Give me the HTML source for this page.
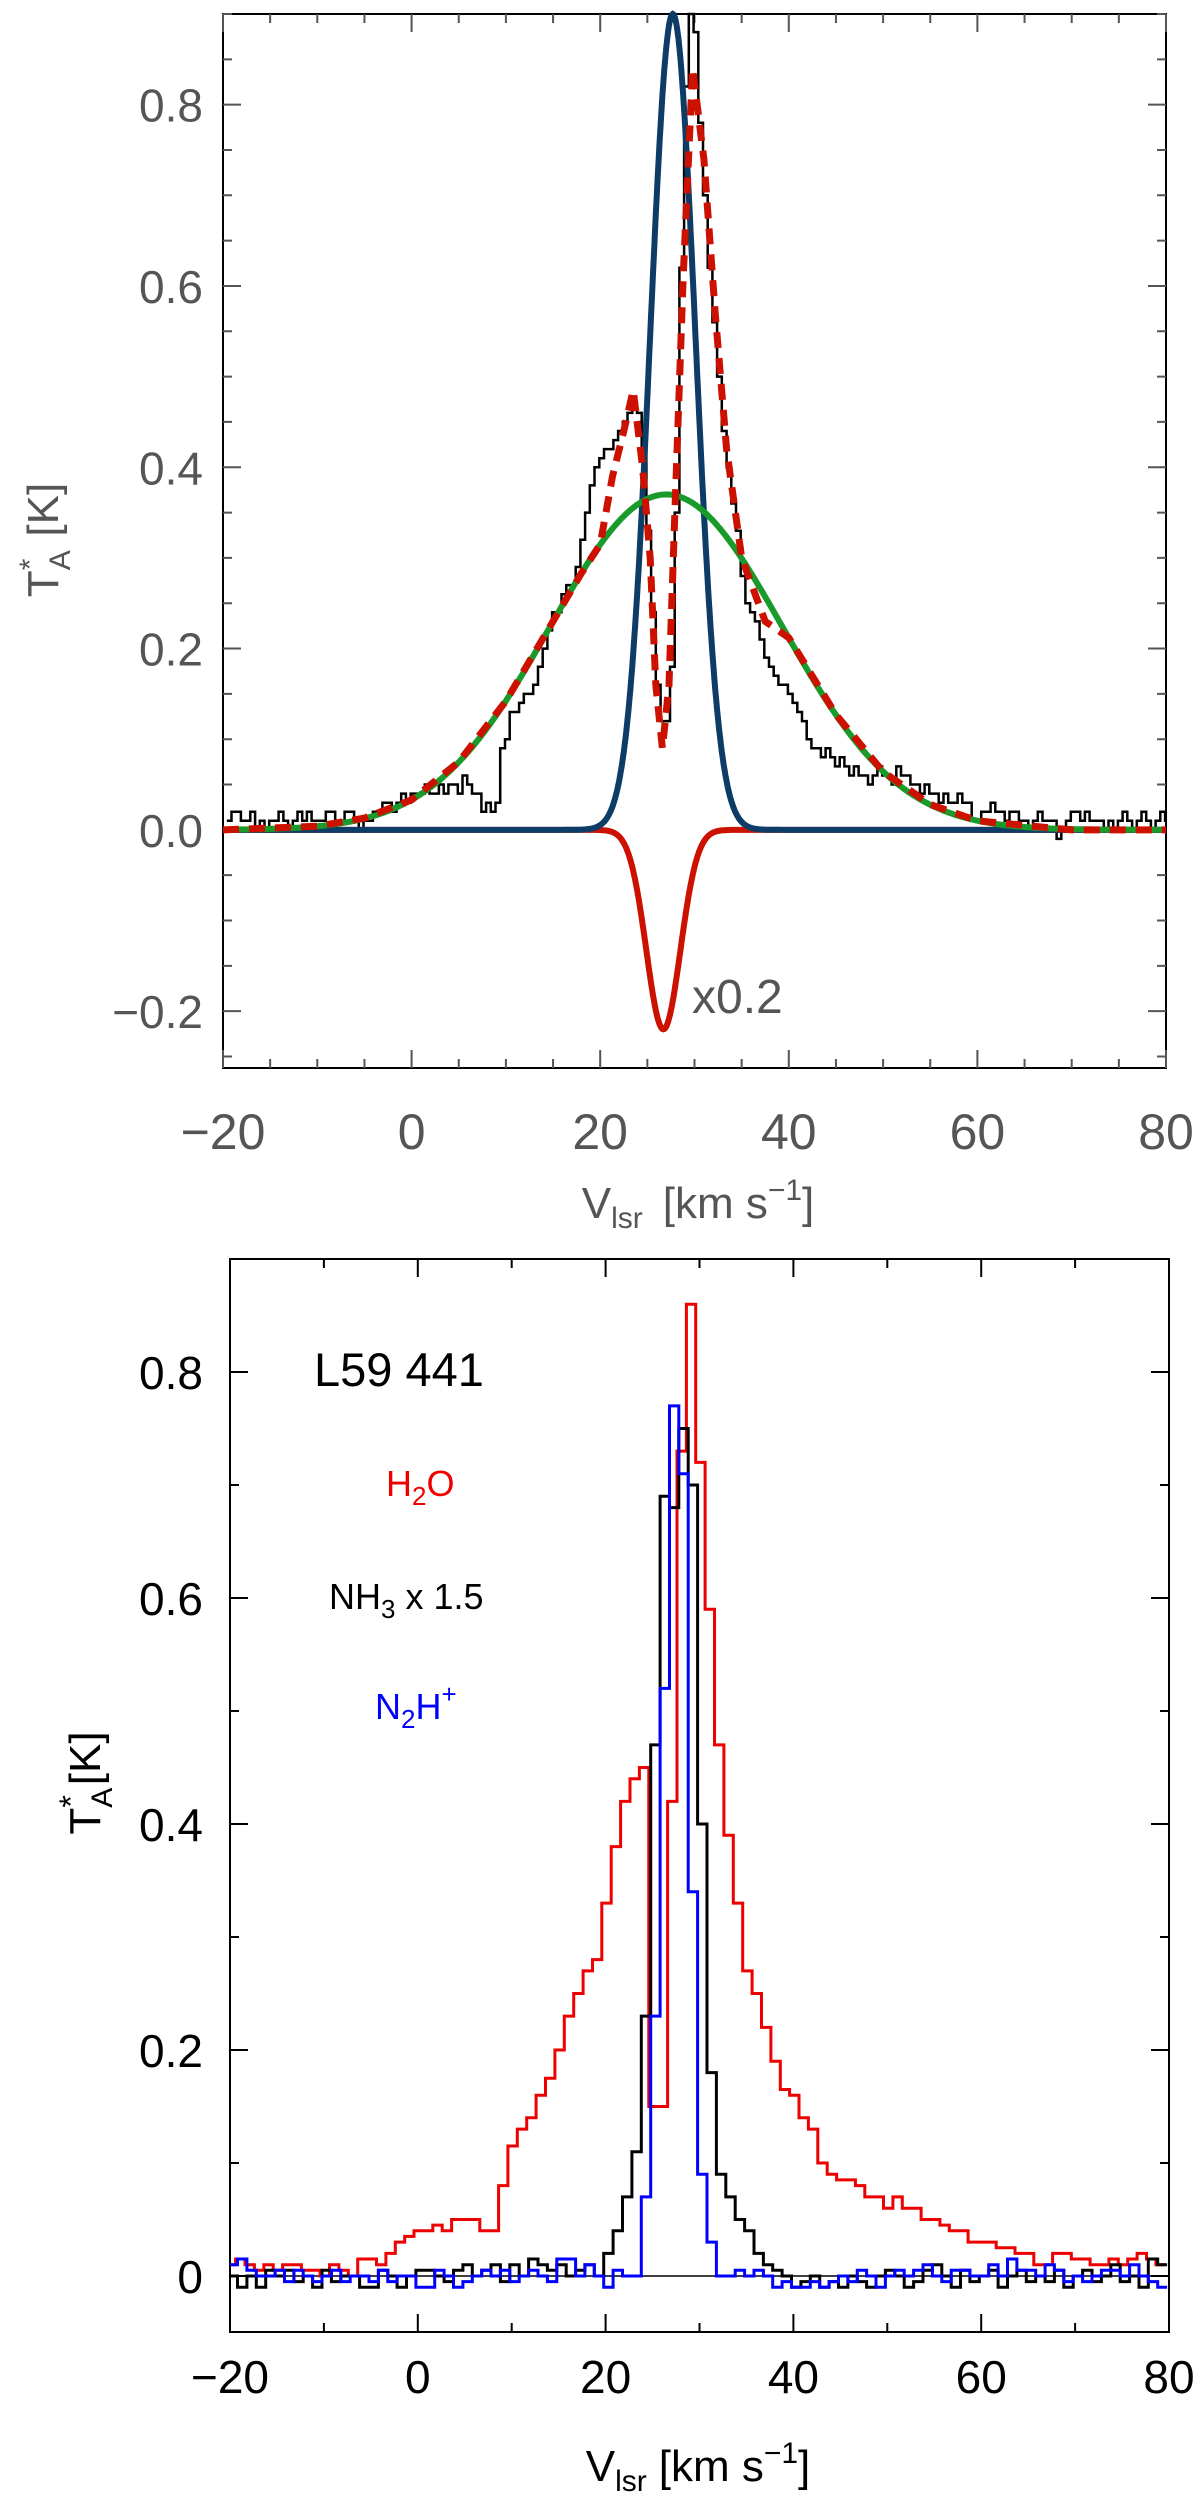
<!DOCTYPE html>
<html><head><meta charset="utf-8"><style>
html,body{margin:0;padding:0;background:#fff;}
svg{display:block;font-family:"Liberation Sans",sans-serif;}
</style></head><body>
<svg id="fig" width="1200" height="2499" viewBox="0 0 1200 2499" xmlns="http://www.w3.org/2000/svg">
<g id="top"></g>
<g id="bot"></g>
<text transform="translate(58,540) rotate(-90)" text-anchor="middle" font-size="44" fill="#555" font-weight="300">T<tspan font-size="30" dy="12">A</tspan><tspan font-size="30" dx="-20" dy="-30">*</tspan><tspan dy="18" dx="22">[K]</tspan></text>
<text x="698" y="1218" text-anchor="middle" font-size="44" fill="#555">V<tspan font-size="30" dy="10">lsr</tspan><tspan dy="-10" dx="20">[km s</tspan><tspan font-size="30" dy="-18">−1</tspan><tspan dy="18">]</tspan></text>
<text x="692" y="1013" font-size="48" fill="#555">x0.2</text>
<text transform="translate(100,1783) rotate(-90)" text-anchor="middle" font-size="44" fill="#000">T<tspan font-size="30" dy="12">A</tspan><tspan font-size="32" dx="-20" dy="-30">*</tspan><tspan dy="18" dx="10">[K]</tspan></text>
<text x="698" y="2481" text-anchor="middle" font-size="44" fill="#000">V<tspan font-size="30" dy="10">lsr</tspan><tspan dy="-10" dx="12">[km s</tspan><tspan font-size="30" dy="-18">−1</tspan><tspan dy="18">]</tspan></text>
<text x="314" y="1386" font-size="47" fill="#000">L59 441</text>
<text x="386" y="1496" font-size="36" fill="#e00">H<tspan font-size="26" dy="9">2</tspan><tspan dy="-9">O</tspan></text>
<text x="329" y="1609" font-size="36" fill="#000">NH<tspan font-size="26" dy="9">3</tspan><tspan dy="-9"> x 1.5</tspan></text>
<text x="375" y="1719" font-size="36" fill="#00f">N<tspan font-size="26" dy="9">2</tspan><tspan dy="-9">H</tspan><tspan font-size="26" dy="-16">+</tspan></text>
</svg>
<script>
// ---- top panel data ----
var topStart = -19.6, topStep = 0.5;
var topSpectrum = [
0.01,0.02,0.02,0.01,0.01,0.02,0.0,0.01,0.0,0.01,0.01,0.02,0.01,0.0,0.01,0.02,0.01,0.02,0.01,0.01,
0.01,0.02,0.02,0.01,0.01,0.02,0.02,0.01,0.0,0.01,
0.01,0.02,0.02,0.03,0.03,0.02,0.03,0.04,0.03,0.04,
0.04,0.04,0.05,0.04,0.04,0.05,0.04,0.05,0.05,0.04,
0.06,0.05,0.04,0.04,0.02,0.03,0.02,0.03,0.09,0.1,
0.13,0.13,0.14,0.15,0.15,0.16,0.18,0.2,0.22,0.24,
0.24,0.26,0.27,0.27,0.29,0.32,0.35,0.38,0.40,0.41,
0.42,0.42,0.43,0.44,0.45,0.46,0.47,0.46,0.42,0.33,
0.24,0.16,0.12,0.12,0.18,0.35,0.62,0.82,0.90,0.88,
0.78,0.70,0.62,0.56,0.50,0.44,0.40,0.36,0.33,0.28,
0.25,0.24,0.23,0.21,0.19,0.18,0.17,0.16,0.16,0.15,
0.14,0.13,0.12,0.10,0.09,0.09,0.08,0.09,0.08,0.07,
0.08,0.07,0.06,0.07,0.06,0.06,0.05,0.06,0.07,0.06,
0.06,0.05,0.07,0.06,0.06,0.05,0.05,0.04,0.05,0.04,
0.04,0.03,0.04,0.03,0.03,0.04,0.03,0.03,0.01,0.01,
0.02,0.02,0.03,0.02,0.02,0.01,0.02,0.02,0.01,0.01,
0.0,0.01,0.02,0.01,0.01,0.01,-0.01,0.0,0.01,0.02,
0.02,0.01,0.02,0.01,0.01,0.01,0.0,0.01,0.0,0.01,
0.02,0.01,0.0,0.01,0.02,0.01,0.0,0.01,0.02,0.01];
// gaussian components: [amplitude, center, sigma]
var narrowComp = [0.9, 27.7, 2.4];
var broadComp = [0.37, 27.0, 12.3];
var absorbComp = [-0.22, 26.7, 1.8];
// total fit
var fitV = [-20,-10,-5,0,5,10,15,18,20,21.3,22.5,23.5,24.5,25.3,25.9,26.6,27.3,27.9,28.8,29.8,31,32.2,33.4,35,37.5,40,45,50,55,60,70,80];
var fitT = [0.0,0.004,0.013,0.033,0.075,0.142,0.23,0.283,0.315,0.39,0.44,0.485,0.40,0.30,0.16,0.09,0.16,0.345,0.61,0.84,0.74,0.57,0.42,0.30,0.23,0.212,0.127,0.064,0.028,0.01,0.0,0.0];
var topYTicks = [-0.2, 0.0, 0.2, 0.4, 0.6, 0.8];
var topYLabels = ["−0.2","0.0","0.2","0.4","0.6","0.8"];
var xTicks = [-20, 0, 20, 40, 60, 80];
var xLabels = ["−20","0","20","40","60","80"];

// ---- bottom panel data ----
var botStart = -20, botStep = 1;
var h2o = [
0.01,0.015,0.01,0.005,0.01,0.005,0.01,0.01,0.005,0.005,
0.0,0.01,0.005,0.0,0.015,0.015,0.01,0.02,0.03,0.035,
0.04,0.04,0.045,0.04,0.05,0.05,0.05,0.04,0.04,0.08,
0.115,0.13,0.14,0.16,0.175,0.2,0.23,0.25,0.27,0.28,
0.33,0.38,0.42,0.44,0.45,0.15,0.15,0.42,0.73,0.86,
0.72,0.59,0.47,0.39,0.33,0.27,0.25,0.22,0.19,0.165,
0.16,0.14,0.13,0.1,0.09,0.085,0.085,0.08,0.07,0.07,
0.06,0.07,0.06,0.06,0.05,0.05,0.045,0.04,0.04,0.03,
0.03,0.03,0.025,0.025,0.02,0.02,0.01,0.01,0.02,0.02,
0.015,0.015,0.01,0.01,0.015,0.01,0.015,0.02,0.015,0.01];
var nh3 = [
0.0,-0.01,0.0,-0.01,0.005,0.0,0.005,-0.005,0.0,-0.01,
0.005,-0.005,0.0,0.0,-0.01,-0.01,0.005,0.0,-0.01,0.0,
0.005,0.005,0.0,-0.005,0.005,0.01,0.0,0.005,0.01,-0.005,
0.01,0.0,0.015,0.01,0.005,0.01,0.0,0.005,0.01,0.0,
0.02,0.04,0.07,0.11,0.23,0.47,0.69,0.68,0.75,0.70,
0.40,0.18,0.09,0.07,0.05,0.04,0.02,0.01,0.005,0.0,
-0.01,-0.005,0.0,-0.01,-0.005,-0.01,0.0,-0.005,-0.01,0.0,
0.005,0.0,-0.01,-0.005,0.005,0.01,0.0,-0.01,0.005,-0.005,
0.0,0.005,-0.01,0.0,0.005,-0.005,0.0,-0.005,0.005,-0.01,
0.0,0.005,-0.005,0.0,0.01,-0.005,0.0,-0.01,0.015,0.01];
var n2h = [
0.01,0.015,0.005,0.0,0.0,0.005,-0.005,0.005,0.0,-0.005,
0.0,0.005,-0.005,0.0,0.0,-0.005,0.005,-0.005,0.0,0.0,
-0.01,-0.01,0.005,0.0,-0.01,-0.005,0.0,0.005,0.0,0.005,
-0.005,0.0,0.005,0.0,-0.005,0.015,0.015,0.0,0.01,0.0,
-0.01,0.005,0.0,0.0,0.07,0.23,0.52,0.77,0.71,0.34,
0.09,0.03,0.0,0.0,0.005,0.0,0.005,0.0,-0.01,-0.005,
-0.01,-0.01,-0.005,-0.01,-0.005,0.0,-0.005,0.005,0.0,-0.01,
0.0,0.005,0.0,0.005,0.01,0.0,-0.005,0.005,0.005,0.0,
0.0,0.01,0.0,0.015,0.005,0.005,0.0,0.01,0.005,-0.005,
0.0,-0.005,0.0,0.005,0.005,0.0,0.01,0.0,-0.005,-0.01];
var botYTicks = [0, 0.2, 0.4, 0.6, 0.8];
var botYLabels = ["0","0.2","0.4","0.6","0.8"];

var NS = "http://www.w3.org/2000/svg";
function mk(parent, tag, attrs){ var e=document.createElementNS(NS,tag); for(var k in attrs) e.setAttribute(k,attrs[k]); parent.appendChild(e); return e; }

function axes(L,R,T,B,x0,x1,y0,y1){
  return { x:function(v){return L+(v-x0)/(x1-x0)*(R-L);}, y:function(v){return B-(v-y0)/(y1-y0)*(B-T);} };
}
function gauss(c,v){ return c[0]*Math.exp(-Math.pow(v-c[1],2)/(2*c[2]*c[2])); }
function stepPath(ax,start,step,vals){
  var d="";
  for(var i=0;i<vals.length;i++){
    var xa=Math.max(ax.x(start+i*step),ax.x(-20)), xb=Math.min(ax.x(start+(i+1)*step),ax.x(80)), y=ax.y(vals[i]);
    if(xb<=xa) continue;
    d += (d===""?"M":"L")+xa.toFixed(1)+","+y.toFixed(1)+"L"+xb.toFixed(1)+","+y.toFixed(1);
  }
  return d;
}
function curvePath(ax,fn){
  var d="";
  for(var v=-20;v<=80.001;v+=0.1){ d+=(d?"L":"M")+ax.x(v).toFixed(1)+","+ax.y(fn(v)).toFixed(1); }
  return d;
}
function pointsPath(ax,xs,ys){
  var d="";
  for(var i=0;i<xs.length;i++){ d+=(i?"L":"M")+ax.x(xs[i]).toFixed(1)+","+ax.y(ys[i]).toFixed(1); }
  return d;
}
function frame(g,L,R,T,B,ax,yMinor,yMajor,xMinor,xMajor,ylo,yhi,col){
  var fr = mk(g,"rect",{x:L,y:T,width:R-L,height:B-T,fill:"none",stroke:"#000","stroke-width":2});
  
  
  var d="";
  for(var v=-20; v<=80.001; v+=xMinor){
    var maj = Math.abs(Math.round(v/xMajor)*xMajor - v)<1e-6; var len = maj?18:9; var x=ax.x(v);
    d+="M"+x+","+B+"v"+(-len)+"M"+x+","+T+"v"+len;
  }
  for(var k=Math.ceil(ylo/yMinor-1e-6); k*yMinor<=yhi+1e-6; k++){
    var yv=k*yMinor; var maj=Math.abs(Math.round(yv/yMajor)*yMajor-yv)<1e-6; var len=maj?18:9; var y=ax.y(yv);
    d+="M"+L+","+y+"h"+len+"M"+R+","+y+"h"+(-len);
  }
  var t = mk(g,"path",{d:d,stroke:col,"stroke-width":2,fill:"none"});
  
  
}

// TOP
(function(){
  var g=document.getElementById("top");
  var L=223,R=1166,T=14,B=1068;
  var ax=axes(L,R,T,B,-20,80,-0.2627,0.9);
  frame(g,L,R,T,B,ax,0.05,0.2,5,20,-0.25,0.9,"#555");
  for(var i=0;i<topYTicks.length;i++){
    var t=mk(g,"text",{x:203,y:ax.y(topYTicks[i])+17,"text-anchor":"end","font-size":46,fill:"#555"});
    
    
    t.textContent=topYLabels[i];
  }
  for(var i=0;i<xTicks.length;i++){
    var t=mk(g,"text",{x:ax.x(xTicks[i]),y:1149,"text-anchor":"middle","font-size":50,fill:"#555"});
    
    
    t.textContent=xLabels[i];
  }
  var s=mk(g,"path",{d:stepPath(ax,topStart,topStep,topSpectrum),stroke:"#000","stroke-width":2.5,fill:"none"});
  
  
  var a=mk(g,"path",{d:curvePath(ax,function(v){return gauss(absorbComp,v);}),stroke:"#cc1100","stroke-width":6,fill:"none"});
  
  
  var n=mk(g,"path",{d:curvePath(ax,function(v){return gauss(narrowComp,v);}),stroke:"#0d3d66","stroke-width":6,fill:"none"});
  
  
  var b=mk(g,"path",{d:curvePath(ax,function(v){return gauss(broadComp,v);}),stroke:"#1a9a2a","stroke-width":6,fill:"none"});
  
  
  var f=mk(g,"path",{d:pointsPath(ax,fitV,fitT),stroke:"#cc1100","stroke-width":7,fill:"none","stroke-dasharray":"16,10","stroke-linejoin":"round"});
  
  
})();

// BOTTOM
(function(){
  var g=document.getElementById("bot");
  var L=230,R=1169,T=1259,B=2332;
  var ax=axes(L,R,T,B,-20,80,-0.0496,0.9);
  frame(g,L,R,T,B,ax,0.1,0.2,10,20,0,0.9,"#000");
  for(var i=0;i<botYTicks.length;i++){
    var t=mk(g,"text",{x:203,y:ax.y(botYTicks[i])+17,"text-anchor":"end","font-size":46,fill:"#000"});
    
    
    t.textContent=botYLabels[i];
  }
  for(var i=0;i<xTicks.length;i++){
    var t=mk(g,"text",{x:ax.x(xTicks[i]),y:2393,"text-anchor":"middle","font-size":46,fill:"#000"});
    
    
    t.textContent=xLabels[i];
  }
  var z=mk(g,"line",{x1:L,x2:R,y1:ax.y(0),y2:ax.y(0),stroke:"#000","stroke-width":1.5});
  
  
  var r=mk(g,"path",{d:stepPath(ax,botStart-0.4,botStep,h2o),stroke:"#e00","stroke-width":3,fill:"none"});
  
  
  var k=mk(g,"path",{d:stepPath(ax,botStart-0.2,botStep,nh3),stroke:"#000","stroke-width":3,fill:"none"});
  
  
  var u=mk(g,"path",{d:stepPath(ax,botStart-0.2,botStep,n2h),stroke:"#00f","stroke-width":3,fill:"none"});
  
  
})();
</script>
</body></html>
